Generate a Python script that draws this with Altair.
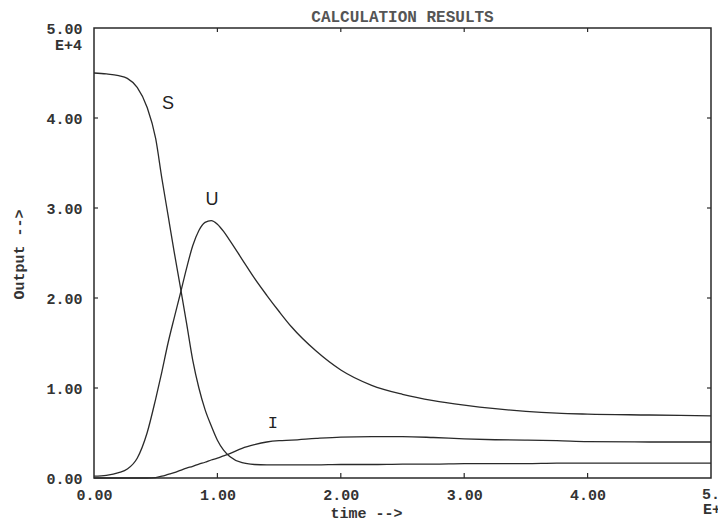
import altair as alt
import pandas as pd

# ---- data (values in units of 1E+4) ----
time = [0, 0.1, 0.2, 0.27, 0.35, 0.43, 0.5, 0.55, 0.6, 0.65, 0.7, 0.75, 0.8, 0.85,
        0.9, 0.95, 1.0, 1.05, 1.1, 1.2, 1.3, 1.4, 1.5, 1.6, 1.8, 2.0, 2.25, 2.5,
        2.75, 3.0, 3.25, 3.5, 3.75, 4.0, 4.5, 5.0]
S = [4.50, 4.49, 4.47, 4.44, 4.34, 4.12, 3.77, 3.33, 2.92, 2.51, 2.12, 1.72, 1.31, 1.00,
     0.76, 0.58, 0.42, 0.31, 0.24, 0.17, 0.15, 0.145, 0.145, 0.145, 0.145, 0.15, 0.15, 0.155,
     0.155, 0.16, 0.16, 0.16, 0.165, 0.165, 0.165, 0.165]
U = [0.02, 0.03, 0.06, 0.10, 0.22, 0.50, 0.88, 1.18, 1.50, 1.78, 2.05, 2.33, 2.58, 2.75,
     2.84, 2.86, 2.82, 2.74, 2.64, 2.43, 2.22, 2.03, 1.85, 1.68, 1.41, 1.20, 1.03, 0.93,
     0.86, 0.81, 0.77, 0.74, 0.72, 0.71, 0.70, 0.69]
I = [0.0, 0.0, 0.0, 0.0, 0.0, 0.0, 0.005, 0.02, 0.04, 0.06, 0.085, 0.11, 0.13, 0.155,
     0.175, 0.20, 0.22, 0.245, 0.27, 0.33, 0.37, 0.40, 0.415, 0.42, 0.44, 0.455, 0.46, 0.46,
     0.45, 0.435, 0.425, 0.42, 0.415, 0.405, 0.40, 0.40]
series_names = ["S", "U", "I"]
label_t = [0.60, 0.956, 1.45]
label_v = [4.16, 3.09, 0.61]
x_ticks = [0, 1, 2, 3, 4, 5]
y_ticks = [0, 1, 2, 3, 4, 5]
exponent_text = "E+4"
last_x_label = "5.00"
chart_title = "CALCULATION RESULTS"
x_title = "time -->"
y_title = "Output -->"

rows = []
for name, vals in zip(series_names, [S, U, I]):
    for t, v in zip(time, vals):
        rows.append({"t": t, "v": v, "series": name})
df = pd.DataFrame(rows)
df_lab = pd.DataFrame({"t": label_t, "v": label_v, "name": series_names})
df_xt = pd.DataFrame({"t": x_ticks[1:-1]})
df_yt = pd.DataFrame({"v": y_ticks[1:-1]})
df_yexp = pd.DataFrame({"t": [x_ticks[0]], "v": [y_ticks[-1]], "txt": [exponent_text]})
df_xlast = pd.DataFrame({"t": [x_ticks[-1]], "v": [y_ticks[0]], "txt": [last_x_label]})
df_xexp = pd.DataFrame({"t": [x_ticks[-1]], "v": [y_ticks[0]], "txt": [exponent_text]})
df_title = pd.DataFrame({"t": [(x_ticks[0] + x_ticks[-1]) / 2], "v": [y_ticks[-1]],
                         "txt": [chart_title]})

W, H = 617, 450
MONO = "Liberation Mono"
INK = "#2a2a2a"
TXT = "#333333"

xs = alt.Scale(domain=[0, 5], nice=False, zero=False)
ys = alt.Scale(domain=[0, 5], nice=False, zero=False)

x_axis = alt.Axis(
    values=x_ticks,
    labelExpr="datum.value == 5 ? '' : format(datum.value, '.2f')",
    labelFont=MONO, labelFontSize=15, labelFontWeight="bold", labelColor=TXT,
    labelPadding=9, labelFlush=False, labelOverlap=False,
    ticks=False, domain=False, grid=False,
    title=x_title, titleFont=MONO, titleFontSize=15, titleFontWeight="bold",
    titleColor=TXT, titleX=272, titleY=34, titleAlign="center", titleBaseline="middle",
)
y_axis = alt.Axis(
    values=y_ticks,
    labelExpr="format(datum.value, '.2f')",
    labelFont=MONO, labelFontSize=15, labelFontWeight="bold", labelColor=TXT,
    labelPadding=12, labelFlush=False, labelOverlap=False,
    ticks=False, domain=False, grid=False,
    title=y_title, titleFont=MONO, titleFontSize=15, titleFontWeight="bold",
    titleColor=TXT, titleAngle=270, titleX=-76, titleY=226,
    titleAlign="center", titleBaseline="middle",
)

X = alt.X("t:Q", scale=xs)
Y = alt.Y("v:Q", scale=ys)

lines = alt.Chart(df).mark_line(
    color=INK, strokeWidth=1.3, interpolate="monotone"
).encode(
    x=alt.X("t:Q", scale=xs, axis=x_axis),
    y=alt.Y("v:Q", scale=ys, axis=y_axis),
    detail="series:N",
)

labels_su = alt.Chart(df_lab).transform_filter("datum.name != 'I'").mark_text(
    font="Liberation Sans", fontSize=18, color="#222", align="center", baseline="middle"
).encode(x=X, y=Y, text="name:N")
labels_i = alt.Chart(df_lab).transform_filter("datum.name == 'I'").mark_text(
    font=MONO, fontSize=17, color="#222", align="center", baseline="middle"
).encode(x=X, y=Y, text="name:N")

tick_style = dict(color=INK, strokeWidth=1.2)
ticks_bottom = alt.Chart(df_xt).mark_rule(**tick_style).encode(
    x=X, y=alt.value(H), y2=alt.value(H - 5))
ticks_top = alt.Chart(df_xt).mark_rule(**tick_style).encode(
    x=X, y=alt.value(0), y2=alt.value(4))
ticks_left = alt.Chart(df_yt).mark_rule(**tick_style).encode(
    y=Y, x=alt.value(0), x2=alt.value(4))
ticks_right = alt.Chart(df_yt).mark_rule(**tick_style).encode(
    y=Y, x=alt.value(W), x2=alt.value(W - 4))

text_style = dict(font=MONO, fontSize=15, fontWeight="bold", color=TXT, baseline="middle")
y_exp = alt.Chart(df_yexp).mark_text(align="right", dx=-12, dy=17, **text_style).encode(
    x=X, y=Y, text="txt:N")
x_last = alt.Chart(df_xlast).mark_text(align="left", dx=-9, dy=16, **text_style).encode(
    x=X, y=Y, text="txt:N")
x_exp = alt.Chart(df_xexp).mark_text(align="left", dx=-8, dy=31, **text_style).encode(
    x=X, y=Y, text="txt:N")
title_txt = alt.Chart(df_title).mark_text(
    align="center", baseline="middle", dy=-11, font=MONO, fontSize=16, fontWeight="bold",
    color="#555555"
).encode(x=X, y=Y, text="txt:N")

chart = alt.layer(
    lines, labels_su, labels_i, ticks_bottom, ticks_top, ticks_left, ticks_right,
    y_exp, x_last, x_exp, title_txt,
).properties(
    width=W, height=H,
    autosize=alt.AutoSizeParams(type="none"),
    padding={"left": 94, "top": 28, "right": 7, "bottom": 53},
    background="white",
).configure_view(stroke=INK, strokeWidth=1.5)

chart.save("out.html", embed_options={"renderer": "svg", "actions": False})
